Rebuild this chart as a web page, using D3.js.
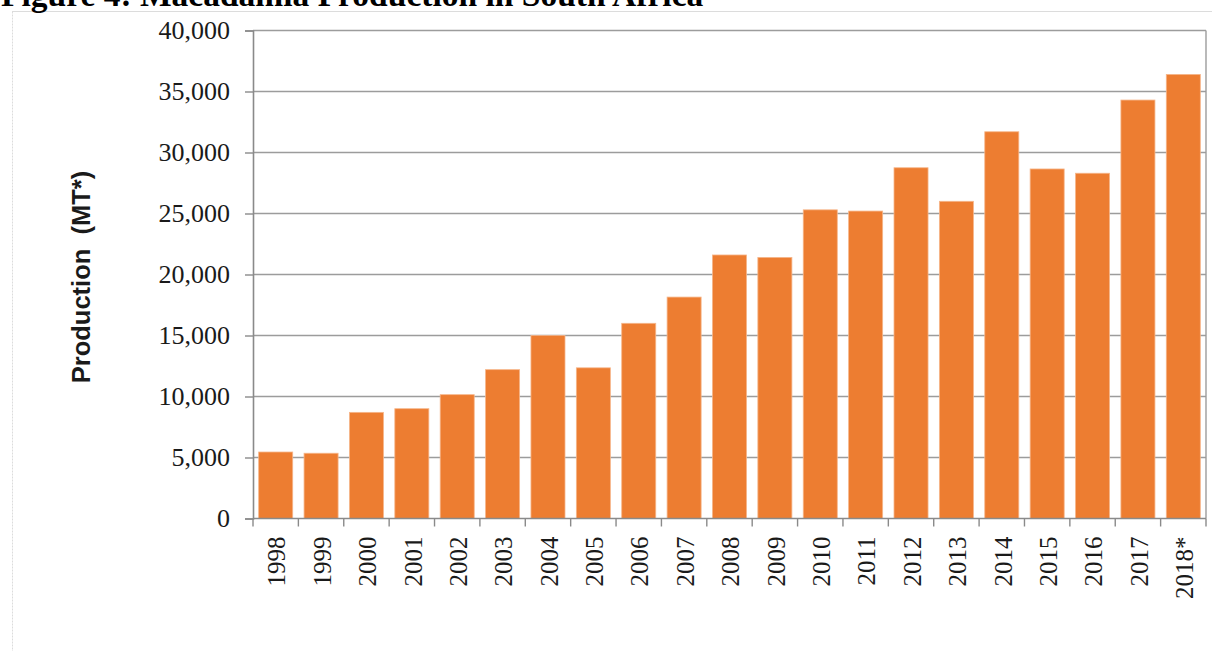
<!DOCTYPE html>
<html>
<head>
<meta charset="utf-8">
<script src="https://cdn.jsdelivr.net/npm/d3@7"></script>
<style>
  html, body { margin: 0; padding: 0; background: #ffffff; }
  svg { display: block; }
</style>
</head>
<body>
<svg id="chart" width="1212" height="651"></svg>
<script>
// Macadamia production in South Africa, 1998-2018 (metric tonnes)
const years = ["1998", "1999", "2000", "2001", "2002", "2003", "2004", "2005", "2006", "2007",
               "2008", "2009", "2010", "2011", "2012", "2013", "2014", "2015", "2016", "2017", "2018*"];
const production = [5450, 5350, 8700, 9000, 10150, 12200, 15000, 12350, 16000, 18150,
                     21600, 21400, 25300, 25200, 28750, 26000, 31700, 28650, 28300, 34300, 36400];
const yTicks = [0, 5000, 10000, 15000, 20000, 25000, 30000, 35000, 40000];

const titleText = "Figure 4: Macadamia Production in South Africa";
const yAxisTitle = "Production  (MT*)";

const svg = d3.select("#chart");
const plot = { left: 253, right: 1206, top: 30.5, bottom: 518.5 };
const gridColor = "#9c9c9c";
const axisColor = "#8a8a8a";
const serif = "'Liberation Serif', 'Times New Roman', serif";

// Page frame
svg.append("line").attr("x1", 12).attr("x2", 1212).attr("y1", 11.5).attr("y2", 11.5)
  .attr("stroke", "#dcdcdc").attr("stroke-width", 1);
svg.append("line").attr("x1", 12.5).attr("x2", 12.5).attr("y1", 11.5).attr("y2", 651)
  .attr("stroke", "#dcdcdc").attr("stroke-width", 1).attr("stroke-dasharray", "2,1");

// Title (runs off the top edge of the page)
svg.append("text")
  .attr("x", 1).attr("y", 6)
  .attr("font-family", serif).attr("font-weight", "bold").attr("font-size", 33.5)
  .attr("fill", "#000")
  .text(titleText);

const x = d3.scaleBand()
  .domain(years)
  .range([plot.left, plot.right])
  .paddingInner(0.25)
  .paddingOuter(0.125);

const y = d3.scaleLinear()
  .domain([0, 40000])
  .range([plot.bottom, plot.top]);

// Horizontal gridlines
svg.append("g")
  .selectAll("line")
  .data(yTicks.filter(d => d > 0))
  .join("line")
  .attr("x1", plot.left).attr("x2", plot.right)
  .attr("y1", d => y(d)).attr("y2", d => y(d))
  .attr("stroke", gridColor).attr("stroke-width", 1.4);

// Right border of the plot area
svg.append("line")
  .attr("x1", plot.right).attr("x2", plot.right)
  .attr("y1", plot.top).attr("y2", plot.bottom)
  .attr("stroke", gridColor).attr("stroke-width", 1.4);

// Bars
svg.append("g")
  .selectAll("rect")
  .data(years.map((yr, i) => ({ yr, v: production[i] })))
  .join("rect")
  .attr("x", d => x(d.yr))
  .attr("width", x.bandwidth())
  .attr("y", d => y(d.v))
  .attr("height", d => y(0) - y(d.v))
  .attr("fill", "#ED7D31")
  .attr("stroke", "#f6b68a")
  .attr("stroke-width", 0.8);

// Y axis
const yAxis = svg.append("g")
  .attr("transform", `translate(${plot.left},0)`)
  .call(d3.axisLeft(y).tickValues(yTicks).tickSize(8).tickPadding(15)
    .tickFormat(d3.format(",")));
yAxis.select(".domain").attr("stroke", axisColor).attr("stroke-width", 1.6);
yAxis.selectAll(".tick line").attr("stroke", axisColor).attr("stroke-width", 1.4);
yAxis.selectAll(".tick text")
  .attr("font-family", serif).attr("font-size", 26).attr("fill", "#1a1a1a");

// X axis: ticks sit between categories, labels rotated
const xAxisG = svg.append("g").attr("transform", `translate(0,${plot.bottom})`);
xAxisG.append("line")
  .attr("x1", plot.left).attr("x2", plot.right).attr("y1", 0).attr("y2", 0)
  .attr("stroke", axisColor).attr("stroke-width", 1.6);
const step = x.step();
const boundaries = d3.range(years.length + 1).map(i => plot.left + i * step);
xAxisG.selectAll("line.sep")
  .data(boundaries)
  .join("line")
  .attr("class", "sep")
  .attr("x1", d => d).attr("x2", d => d).attr("y1", 0).attr("y2", 8)
  .attr("stroke", axisColor).attr("stroke-width", 1.4);
xAxisG.selectAll("text")
  .data(years)
  .join("text")
  .attr("transform", d => `translate(${x(d) + x.bandwidth() / 2 + 1},18) rotate(-90)`)
  .attr("text-anchor", "end")
  .attr("dy", "0.35em")
  .attr("font-family", serif).attr("font-size", 25).attr("fill", "#1a1a1a")
  .text(d => d);

// Y axis title
svg.append("text")
  .attr("transform", "translate(81,277) rotate(-90)")
  .attr("text-anchor", "middle")
  .attr("dy", "0.35em")
  .attr("font-family", "'Liberation Sans', Arial, sans-serif")
  .attr("font-weight", "bold").attr("font-size", 25.5)
  .attr("fill", "#1a1a1a")
  .style("white-space", "pre")
  .text(yAxisTitle);
</script>
</body>
</html>
